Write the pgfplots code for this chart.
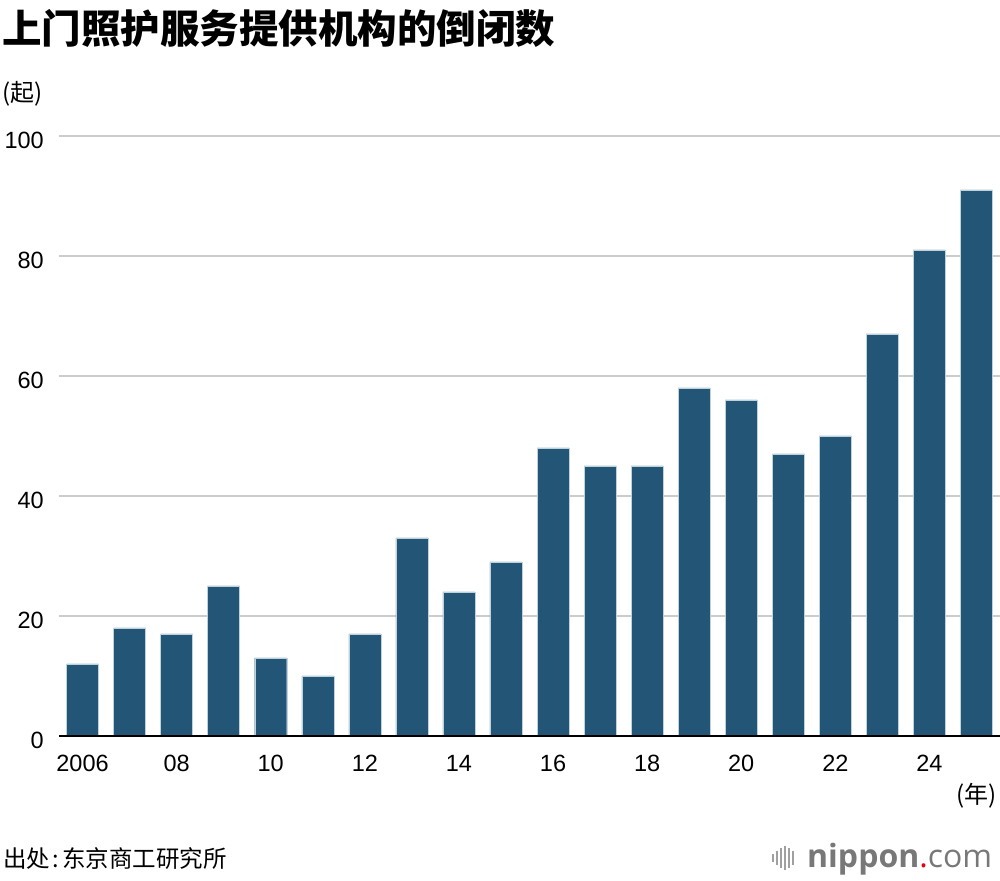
\documentclass[border=0pt]{standalone}
\usepackage{pgfplots}
\pgfplotsset{compat=1.18}
\usepackage{fontspec}
\setmainfont{Liberation Sans}
\newfontfamily\cjk{Noto Sans CJK SC}
\newfontfamily\logofont{Open Sans}
\definecolor{barcol}{RGB}{35,86,118}
\definecolor{gridcol}{RGB}{204,204,204}
\definecolor{logogray}{RGB}{120,120,120}
\definecolor{logored}{RGB}{230,0,18}
\begin{document}
\begin{tikzpicture}
\path[use as bounding box] (0,0) rectangle (1000pt,880pt);
\begin{axis}[
  at={(59pt,144pt)}, anchor=south west,
  scale only axis, width=941pt, height=600pt,
  xmin=-0.5, xmax=19.5, ymin=0, ymax=100,
  axis x line*=bottom, axis y line*=left,
  x axis line style={draw=none},
  y axis line style={draw=none},
  ytick={0,20,...,100},
  xtick={0,2,...,18},
  xticklabels={2006,08,10,12,14,16,18,20,22,24},
  ymajorgrids, grid style={gridcol, line width=1.5pt},
  major tick style={draw=none},
  tick label style={font=\fontsize{23.5}{23.5}\selectfont},
  /pgf/number format/assume math mode=true,
  yticklabel style={anchor=east, inner sep=0pt, xshift=-15pt, yshift=-4pt},
  xticklabel style={anchor=north, inner sep=0pt, yshift=-19pt},
  clip=false,
]
\addplot[ybar, bar width=32pt, fill=barcol, draw={rgb,255:red,190;green,210;blue,222}, line width=0.4pt] coordinates {
(0,12) (1,18) (2,17) (3,25) (4,13) (5,10) (6,17) (7,33) (8,24) (9,29)
(10,48) (11,45) (12,45) (13,58) (14,56) (15,47) (16,50) (17,67) (18,81) (19,91)
};
\draw[black, line width=2.5pt] (rel axis cs:0,0) -- (rel axis cs:1,0);
\end{axis}
% titles and notes
\node[anchor=base west, inner sep=0pt] at (2pt,836pt) {\cjk\bfseries\fontsize{39.5}{39.5}\selectfont 上门照护服务提供机构的倒闭数};
\node[anchor=base west, inner sep=0pt] at (2pt,778pt) {\cjk\fontsize{24}{24}\selectfont (起)};
\node[anchor=base east, inner sep=0pt] at (997pt,76pt) {\cjk\fontsize{24}{24}\selectfont (年)};
\node[anchor=base west, inner sep=0pt] at (3pt,13pt) {\cjk\fontsize{23.5}{23.5}\selectfont 出处\kern0.12em:\kern0.12em 东京商工研究所};
% logo
\foreach \xx/\hh in {773/8,777/14,781/20,785/24,789/20,793/14}{
  \draw[logogray!70, line width=1.6pt] (\xx pt,{22pt-\hh pt/2}) -- (\xx pt,{22pt+\hh pt/2});
}
\node[anchor=base west, inner sep=0pt] at (807pt,13pt) {\logofont\fontsize{32}{32}\selectfont\color{logogray}\textbf{nippon}\textcolor{logored}{.}com};
\end{tikzpicture}
\end{document}
